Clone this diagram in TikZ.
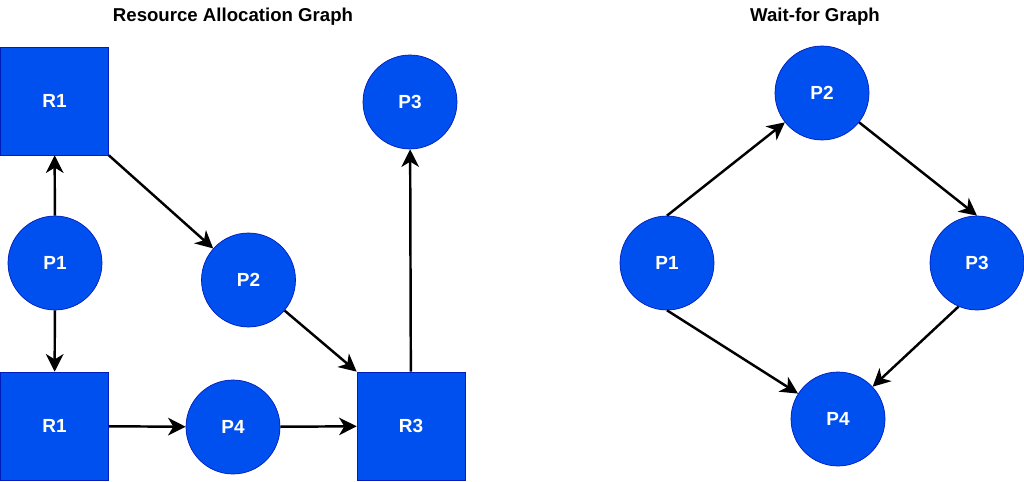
\documentclass[tikz,border=0pt]{standalone}
\usepackage{fontspec}
\setmainfont{Liberation Sans}
\usetikzlibrary{arrows.meta}
\definecolor{Blue}{HTML}{0050EF}
\definecolor{DarkBlue}{HTML}{001DBC}

\begin{document}
\begin{tikzpicture}[x=.02cm,y=-.02cm,
 r/.style={draw=DarkBlue,fill=Blue,minimum size=2.16cm,inner sep=0pt,text=white,font=\fontsize{10.8}{12}\selectfont\bfseries},
 p/.style={circle,draw=DarkBlue,fill=Blue,minimum size=1.88cm,inner sep=0pt,text=white,font=\fontsize{10.8}{12}\selectfont\bfseries},
 a/.style={-{Stealth[length=10pt,width=10pt,inset=3pt]},line width=1.4pt,black},
 t/.style={font=\fontsize{10.6}{12}\selectfont\bfseries}]
\useasboundingbox[fill=white] (0,0) rectangle (1024,482);
% resource allocation graph
\node[t] (t1) at (233,17) {Resource Allocation Graph};
\node[r] (r1a) at (54.5,101) {R1};
\node[r] (r1b) at (54.5,426) {R1};
\node[r] (r3) at (411,426) {R3};
\node[p] (p1a) at (55,263) {P1};
\node[p] (p2a) at (248.5,280) {P2};
\node[p] (p3a) at (410,102) {P3};
\node[p] (p4a) at (233,427) {P4};
\draw[a] (p1a)--(r1a);
\draw[a] (p1a)--(r1b);
\draw[a] (r1a.south east)--(p2a);
\draw[a] (p2a)--(r3.north west);
\draw[a] (r1b)--(p4a);
\draw[a] (p4a)--(r3);
\draw[a] (r3)--(p3a);
% wait-for graph
\node[t] (t2) at (815,17) {Wait-for Graph};
\node[p] (p1w) at (667,263) {P1};
\node[p] (p2w) at (822,93) {P2};
\node[p] (p3w) at (977,263) {P3};
\node[p] (p4w) at (838,419) {P4};
\draw[a] (p1w.north)--(p2w);
\draw[a] (p2w)--(p3w.north);
\draw[a] (p1w.south)--(p4w);
\draw[a] (p3w.247)--(p4w);
\end{tikzpicture}
\end{document}
